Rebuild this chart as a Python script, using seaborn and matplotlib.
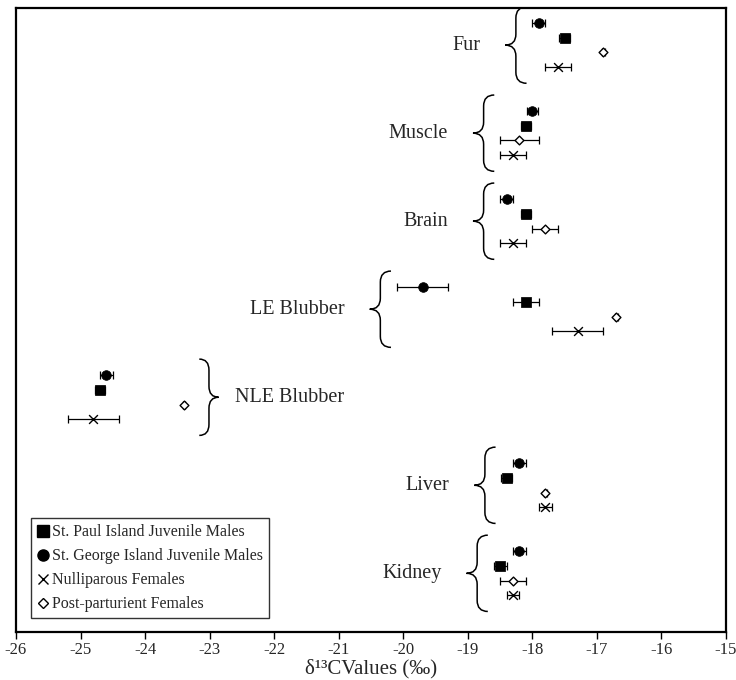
import matplotlib
matplotlib.use("Agg")
import matplotlib.pyplot as plt
from matplotlib.path import Path
from matplotlib.patches import PathPatch
from matplotlib.lines import Line2D
import seaborn as sns
import pandas as pd

# tissues, top to bottom
tissues = ["Fur", "Muscle", "Brain", "LE Blubber", "NLE Blubber", "Liver", "Kidney"]

# mean d13C and error, one list per group (same tissue order)
st_george = [-17.9, -18.0, -18.4, -19.7, -24.6, -18.2, -18.2]
st_george_err = [0.1, 0.08, 0.1, 0.4, 0.1, 0.1, 0.1]
st_paul = [-17.5, -18.1, -18.1, -18.1, -24.7, -18.4, -18.5]
st_paul_err = [0.08, 0.08, 0.08, 0.2, 0.08, 0.08, 0.1]
post_part = [-16.9, -18.2, -17.8, -16.7, -23.4, -17.8, -18.3]
post_part_err = [0.02, 0.3, 0.2, 0.02, 0.02, 0.02, 0.2]
nullip = [-17.6, -18.3, -18.3, -17.3, -24.8, -17.8, -18.3]
nullip_err = [0.2, 0.2, 0.2, 0.4, 0.4, 0.1, 0.1]

group_names = ["St. George Island Juvenile Males", "St. Paul Island Juvenile Males",
               "Post-parturient Females", "Nulliparous Females"]
legend_order = ["St. Paul Island Juvenile Males", "St. George Island Juvenile Males",
                "Nulliparous Females", "Post-parturient Females"]

sns.set_style("ticks")
plt.rcParams["font.family"] = ["Liberation Serif", "DejaVu Serif"]
plt.rcParams["axes.unicode_minus"] = False

rows = []
for g, (vals, errs) in enumerate([(st_george, st_george_err), (st_paul, st_paul_err),
                                  (post_part, post_part_err), (nullip, nullip_err)]):
    for t, tissue in enumerate(tissues):
        rows.append({"tissue": tissue, "group": group_names[g], "mean": vals[t],
                     "err": errs[t], "row": t * 6 + g - 1.5})
df = pd.DataFrame(rows)

styles = {
    "St. George Island Juvenile Males": dict(marker="o", s=48, color="black", edgecolor="black"),
    "St. Paul Island Juvenile Males": dict(marker="s", s=44, color="black", edgecolor="black"),
    "Post-parturient Females": dict(marker="D", s=20, color="white", edgecolor="black", linewidth=1),
    "Nulliparous Females": dict(marker="x", s=40, color="black", linewidth=1),
}

fig = plt.figure(figsize=(7.36, 6.8), dpi=100)
ax = fig.add_axes([0.0217, 0.0706, 0.9647, 0.9174])

for name in group_names:
    sub = df[df["group"] == name]
    ax.errorbar(sub["mean"], sub["row"], xerr=sub["err"], fmt="none", ecolor="black",
                elinewidth=0.9, capsize=2.6, capthick=0.9, zorder=2)
    sns.scatterplot(data=sub, x="mean", y="row", ax=ax, legend=False, zorder=3, **styles[name])


def brace(ax, x_tip, yc, h, w, r, direction):
    xs = x_tip + direction * w / 2
    xe = x_tip + direction * w
    verts = [(xe, yc - h), (xs, yc - h), (xs, yc - h + r), (xs, yc - r),
             (xs, yc), (x_tip, yc), (xs, yc), (xs, yc + r), (xs, yc + h - r),
             (xs, yc + h), (xe, yc + h)]
    codes = [Path.MOVETO, Path.CURVE3, Path.CURVE3, Path.LINETO,
             Path.CURVE3, Path.CURVE3, Path.CURVE3, Path.CURVE3, Path.LINETO,
             Path.CURVE3, Path.CURVE3]
    ax.add_patch(PathPatch(Path(verts, codes), fill=False, lw=1.1, color="black"))


for t, tissue in enumerate(tissues):
    sub = df[df["tissue"] == tissue]
    yc = t * 6
    if tissue == "NLE Blubber":
        tip = (sub["mean"] + sub["err"]).max() + 0.52
        brace(ax, tip, yc, 2.6, 0.3, 0.75, -1)
        ax.text(tip + 0.25, yc, tissue, ha="left", va="center", fontsize=14.5)
    else:
        tip = (sub["mean"] - sub["err"]).min() - 0.42
        brace(ax, tip, yc, 2.6, 0.33, 0.75, 1)
        ax.text(tip - 0.39, yc, tissue, ha="right", va="center", fontsize=14.5)

ax.set_xlim(-26, -15)
ax.set_ylim(40.0, -2.52)
ax.set_xticks(range(-26, -14))
ax.set_xticklabels([str(v) for v in range(-26, -14)], fontsize=12)
ax.set_yticks([])
ax.set_ylabel("")
ax.set_xlabel("δ¹³CValues (‰)", fontsize=15, labelpad=1)
ax.tick_params(axis="x", direction="out", length=5, width=1, color="black", pad=2)
for sp in ax.spines.values():
    sp.set_linewidth(1.6)
    sp.set_color("black")

handles = []
for name in legend_order:
    st = styles[name]
    if st["marker"] == "x":
        h = Line2D([], [], ls="none", marker="x", color="black", markersize=7, mew=1)
    else:
        h = Line2D([], [], ls="none", marker=st["marker"], markerfacecolor=st["color"],
                   markeredgecolor="black", markersize=5.5 if st["marker"] == "D" else 8, mew=1)
    handles.append(h)
leg = ax.legend(handles, legend_order, loc="lower left", bbox_to_anchor=(0.021, 0.022),
                borderaxespad=0, fontsize=11.5, frameon=True, fancybox=False,
                handlelength=0.7, handletextpad=0.25, labelspacing=0.5, borderpad=0.38)
leg.get_frame().set_edgecolor("black")
leg.get_frame().set_linewidth(1)

fig.savefig("out.png", dpi=100)
